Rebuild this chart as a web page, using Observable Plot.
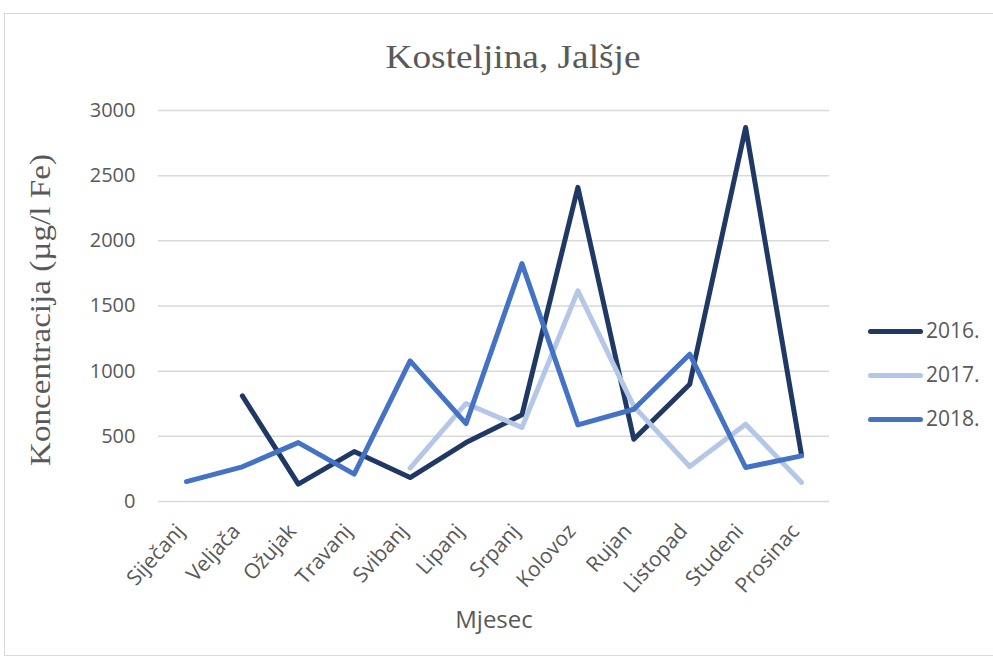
<!DOCTYPE html>
<html>
<head>
<meta charset="utf-8">
<script src="https://cdn.jsdelivr.net/npm/d3@7"></script>
<script src="https://cdn.jsdelivr.net/npm/@observablehq/plot@0.6"></script>
<style>
  html, body { margin: 0; padding: 0; background: #fff; }
  #wrap { position: relative; width: 993px; height: 662px; overflow: hidden; }
  #border { position: absolute; left: 4px; top: 13px; width: 1000px; height: 643px; border: 1.5px solid #d9d9d9; box-sizing: border-box; }
  #chart { position: absolute; left: 0; top: 0; }
  .leg { position: absolute; left: 868px; font-family: "Open Sans", sans-serif; font-size: 21px; color: #595959; }
  .leg .sw { position: absolute; left: 0; width: 55px; height: 5px; border-radius: 3px; }
  .leg .lb { position: absolute; left: 58px; white-space: nowrap; }
</style>
</head>
<body>
<div id="wrap">
  <div id="border"></div>
  <div id="chart"></div>
</div>
<script>
const months = ["Siječanj","Veljača","Ožujak","Travanj","Svibanj","Lipanj","Srpanj","Kolovoz","Rujan","Listopad","Studeni","Prosinac"];
const years = ["2016.", "2017.", "2018."];
const v2016 = [null, 810, 133, 383, 184, 452, 665, 2410, 478, 900, 2870, 355];
const v2017 = [null, null, null, null, 256, 752, 568, 1616, 730, 269, 593, 146];
const v2018 = [153, 266, 452, 210, 1079, 598, 1825, 588, 708, 1130, 261, 350];
const yTicks = [0, 500, 1000, 1500, 2000, 2500, 3000];
const colors = ["#203864", "#B4C7E7", "#4472C4"];
const titleText = "Kosteljina, Jalšje";
const yLabel = "Koncentracija (µg/l Fe)";
const xLabel = "Mjesec";

const series = [v2016, v2017, v2018];
const rows = [];
series.forEach((vals, si) => {
  vals.forEach((v, i) => {
    if (v != null) rows.push({month: months[i], value: v, year: years[si]});
  });
});

const lineMarks = years.map((yr, si) =>
  Plot.line(rows.filter(d => d.year === yr), {
    x: "month", y: "value", stroke: colors[si], strokeWidth: 5,
    strokeLinecap: "round", strokeLinejoin: "round"
  })
);

const chart = Plot.plot({
  width: 993,
  height: 662,
  marginTop: 110,
  marginBottom: 161,
  marginLeft: 158,
  marginRight: 164,
  style: { fontFamily: "Open Sans, sans-serif", fontSize: "20px", color: "#595959", background: "transparent" },
  x: { type: "point", domain: months, padding: 0.5, round: false, label: null },
  y: { domain: [0, 3000], label: null },
  marks: [
    Plot.ruleY(yTicks, { stroke: "#d9d9d9", strokeWidth: 1.5 }),
    Plot.axisY({ ticks: yTicks, tickFormat: d => String(d), tickSize: 0, tickPadding: 23, label: null, fontSize: 20 }),
    Plot.axisX({ tickRotate: -48, tickSize: 0, tickPadding: 16, dx: -6, dy: 10, label: null, fontSize: 21 }),
    ...lineMarks,
    Plot.text([titleText], { frameAnchor: "top", dy: -67, dx: 19, fontFamily: "Liberation Serif", fontSize: 34, fill: "#595959", text: d => d }),
    Plot.text([yLabel], { frameAnchor: "left", textAnchor: "middle", dx: -118, dy: 4, rotate: -90, fontFamily: "Liberation Serif", fontSize: 30, fill: "#595959", text: d => d }),
    Plot.text([xLabel], { frameAnchor: "bottom", dy: 126, fontSize: 24, fill: "#595959", text: d => d })
  ]
});
document.getElementById("chart").appendChild(chart);

// stretch serif labels to the reference's lengths
d3.select(chart).selectAll("text").each(function() {
  const t = this.textContent;
  if (t === titleText) d3.select(this).attr("textLength", 255).attr("lengthAdjust", "spacingAndGlyphs");
  if (t === yLabel) d3.select(this).attr("textLength", 312).attr("lengthAdjust", "spacingAndGlyphs");
});

// legend
const wrap = document.getElementById("wrap");
const legY = [331, 375, 419];
years.forEach((yr, i) => {
  const item = document.createElement("div");
  item.className = "leg";
  item.style.top = legY[i] + "px";
  const sw = document.createElement("div");
  sw.className = "sw";
  sw.style.background = colors[i];
  sw.style.top = "-2.5px";
  const lb = document.createElement("div");
  lb.className = "lb";
  lb.style.top = "-15px";
  lb.textContent = yr;
  item.appendChild(sw);
  item.appendChild(lb);
  wrap.appendChild(item);
});
</script>
</body>
</html>
